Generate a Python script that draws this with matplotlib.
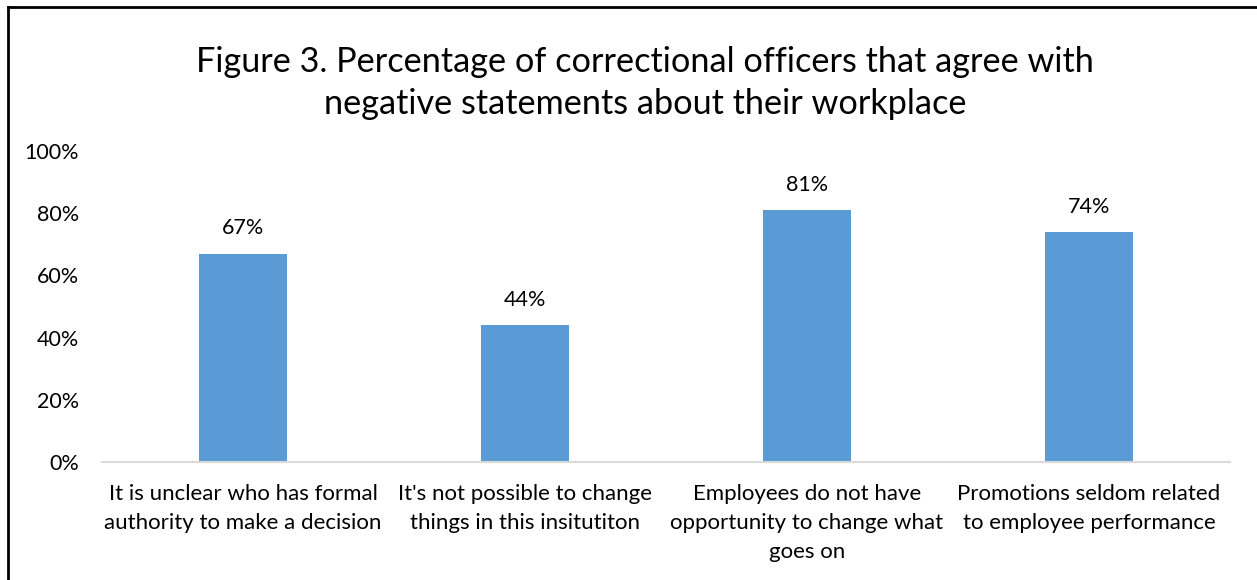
import matplotlib
matplotlib.use("Agg")
import matplotlib.pyplot as plt
from matplotlib.lines import Line2D
from matplotlib.ticker import FuncFormatter

categories = [
    "It is unclear who has formal\nauthority to make a decision",
    "It's not possible to change\nthings in this insitutiton",
    "Employees do not have\nopportunity to change what\ngoes on",
    "Promotions seldom related\nto employee performance",
]
values = [0.67, 0.44, 0.81, 0.74]
labels = ["67%", "44%", "81%", "74%"]
yticks = [0, 0.2, 0.4, 0.6, 0.8, 1.0]

plt.rcParams['font.family'] = ['Lato', 'DejaVu Sans']

fig = plt.figure(figsize=(12.57, 5.80), dpi=100)
ax = fig.add_axes([102/1257, 1 - 462/580, (1230-102)/1257, (462-151)/580])

x = list(range(len(categories)))
bars = ax.bar(x, values, width=0.31, color="#5B9BD5", zorder=2)
for xi, v, lab in zip(x, values, labels):
    ax.annotate(lab, (xi, v), xytext=(0, 11), textcoords="offset points",
                ha="center", va="bottom", fontsize=15.5, color="#000000")

ax.set_xlim(-0.5, len(categories) - 0.5)
ax.set_ylim(0, 1.0)
ax.set_yticks(yticks)
ax.yaxis.set_major_formatter(FuncFormatter(lambda v, p: f"{int(round(v*100))}%"))
ax.set_xticks(x)
ax.set_xticklabels(categories, fontsize=16, linespacing=1.55)
ax.tick_params(axis="y", length=0, pad=16.5, labelsize=15.5)
ax.tick_params(axis="x", length=0, pad=16)
for s in ["top", "right", "left"]:
    ax.spines[s].set_visible(False)
ax.spines["bottom"].set_color("#D9D9D9")
ax.spines["bottom"].set_linewidth(1.5)

fig.text(645/1257, 1 - 83/580,
         "Figure 3. Percentage of correctional officers that agree with\nnegative statements about their workplace",
         ha="center", va="center", fontsize=24.7, linespacing=1.4)

# outer frame (left and top edges visible)
fig.add_artist(Line2D([8/1257, 8/1257], [0, 1 - 7/580], transform=fig.transFigure, color="black", lw=2))
fig.add_artist(Line2D([8/1257, 1], [1 - 7/580, 1 - 7/580], transform=fig.transFigure, color="black", lw=2))

fig.savefig("out.png", dpi=100)
